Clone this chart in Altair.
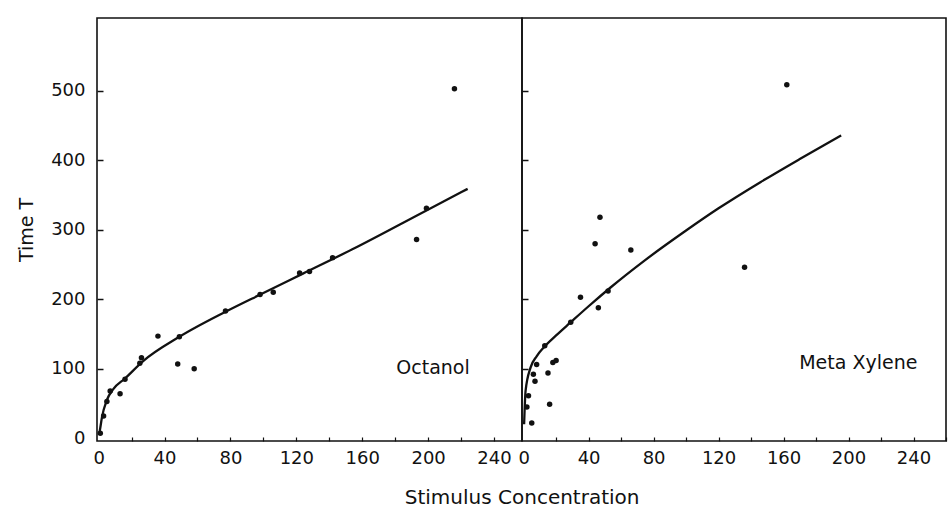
import altair as alt
import pandas as pd

# ---- data ----
oct_x = [1, 3, 5, 7, 13, 16, 25, 26, 36, 48, 49, 58, 77, 98, 106, 122, 128, 142, 193, 199, 216]
oct_y = [7, 32, 53, 68, 64, 85, 108, 116, 147, 107, 146, 100, 183, 207, 210, 238, 240, 260, 286, 331, 503]
oct_fit_x = [0.5, 1, 2, 5, 9, 16, 27, 49, 77, 100, 124, 154, 199, 224]
oct_fit_y = [8, 15, 30, 55, 71, 86, 111, 146, 182, 209, 237, 272, 328, 359]

mx_x = [2, 3, 5, 6, 7, 8, 13, 15, 16, 18, 20, 29, 35, 44, 46, 47, 52, 66, 136, 162]
mx_y = [45, 61, 22, 92, 82, 106, 133, 94, 49, 109, 112, 167, 203, 280, 188, 318, 212, 271, 246, 509]
mx_fit_x = [0.3, 1.2, 4.3, 8, 12.5, 20, 29, 40, 53.5, 74, 100, 120, 146, 170, 195.5]
mx_fit_y = [20, 68, 102, 118, 131, 148, 167, 190, 217, 255, 299, 331, 369, 402, 436]

panel_labels = ["Octanol", "Meta Xylene"]
label_pos_x = [203, 206]
label_pos_y = [101, 108]

x_label_values = [0, 40, 80, 120, 160, 200, 240]
x_tick_values_left = [20, 40, 60, 80, 100, 120, 140, 160, 180, 200, 220, 240]
x_tick_values_right = [20, 40, 60, 80, 100, 120, 140, 160, 180, 200, 220, 240, 260]
y_values = [0, 100, 200, 300, 400, 500]
y_tick_values = [100, 200, 300, 400, 500]

FONT = "DejaVu Sans"
INK = "#111111"
H = 423
Y_DOMAIN = [-4, 605]


def panel(px, py, fx, fy, label, lx, ly, xdom, width, xticks, first):
    pts = pd.DataFrame({"c": px, "t": py})
    fit = pd.DataFrame({"c": fx, "t": fy})
    lab = pd.DataFrame({"c": [lx], "t": [ly], "txt": [label]})
    xs = alt.Scale(domain=xdom, nice=False, zero=False)
    ys = alt.Scale(domain=Y_DOMAIN, nice=False, zero=False)

    x_lab_axis = alt.Axis(values=x_label_values, ticks=False, domain=False, grid=False,
                          labelPadding=8, title=None, labelFlush=False)
    if first:
        y_lab_axis = alt.Axis(values=y_values, ticks=False, domain=False, grid=False,
                              labelPadding=12, title="Time T", titlePadding=14)
    else:
        y_lab_axis = None

    points = alt.Chart(pts).mark_circle(size=30, color=INK, opacity=1).encode(
        x=alt.X("c:Q", scale=xs, axis=x_lab_axis),
        y=alt.Y("t:Q", scale=ys, axis=y_lab_axis),
    )
    line = alt.Chart(fit).mark_line(color=INK, strokeWidth=2.3, interpolate="monotone").encode(
        x=alt.X("c:Q", scale=xs,
                axis=alt.Axis(orient="top", offset=-H, values=xticks, labels=False,
                              domain=False, grid=False, tickSize=4, tickColor=INK,
                              tickWidth=1.2, title=None)),
        y=alt.Y("t:Q", scale=ys,
                axis=alt.Axis(orient="right", offset=-width, values=y_tick_values, labels=False,
                              domain=False, grid=False, tickSize=6, tickColor=INK,
                              tickWidth=1.5, title=None)),
    )
    txt = alt.Chart(lab).mark_text(font=FONT, fontSize=19, color=INK, align="center",
                                   baseline="middle").encode(
        x=alt.X("c:Q", scale=xs, axis=None),
        y=alt.Y("t:Q", scale=ys, axis=None),
        text="txt:N",
    )
    return alt.layer(points, line, txt).resolve_axis(x="independent", y="independent").properties(
        width=width, height=H
    )


left = panel(oct_x, oct_y, oct_fit_x, oct_fit_y, panel_labels[0], label_pos_x[0], label_pos_y[0],
             [-1, 257], 425, x_tick_values_left, True)
right = panel(mx_x, mx_y, mx_fit_x, mx_fit_y, panel_labels[1], label_pos_x[1], label_pos_y[1],
              [-1, 260], 424, x_tick_values_right, False)

chart = alt.hconcat(left, right, spacing=0, bounds="flush").properties(
    title=alt.TitleParams("Stimulus Concentration", orient="bottom", anchor="middle",
                          font=FONT, fontSize=20, fontWeight="normal", color=INK, offset=20,
                          dx=40),
    padding={"left": 16, "top": 17, "right": 2, "bottom": 5},
    background="white",
).configure_view(
    stroke=INK, strokeWidth=1.6
).configure_axis(
    labelFont=FONT, labelFontSize=18, labelColor=INK,
    titleFont=FONT, titleFontSize=19, titleFontWeight="normal", titleColor=INK,
)

chart.save("out.html", embed_options={"renderer": "svg", "actions": False})
